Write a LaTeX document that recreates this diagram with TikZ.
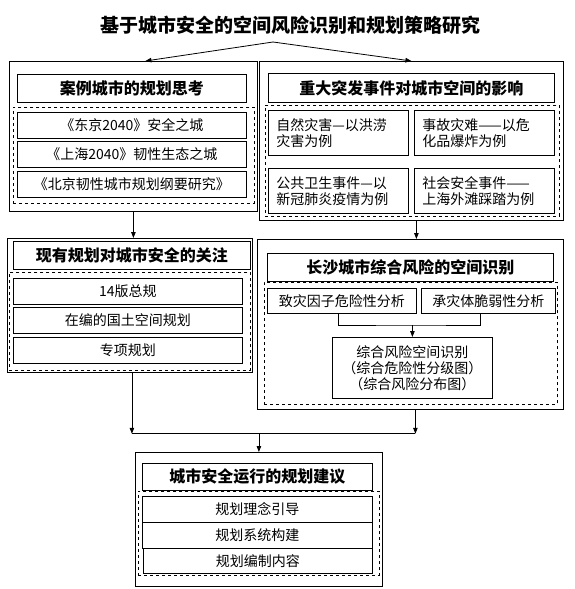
\documentclass[tikz,border=0pt]{standalone}
\usepackage{fontspec}
\setmainfont{Noto Sans CJK SC}
\usetikzlibrary{arrows.meta,positioning}
\tikzset{
  outb/.style={draw, line width=0.8pt, anchor=north west, inner sep=0pt},
  dbox/.style={draw, dashed, line width=0.6pt, anchor=north west, inner sep=0pt},
  hdr/.style={draw, line width=0.8pt, anchor=north west, inner sep=0pt, align=center, font=\fontsize{16pt}{19pt}\selectfont\bfseries},
  item/.style={draw, line width=0.8pt, anchor=north west, inner sep=0pt, align=center, font=\fontsize{14pt}{16pt}\selectfont},
  cell/.style={draw, line width=0.8pt, anchor=north west, inner xsep=8pt, inner ysep=0pt, align=left, text width=124pt, minimum width=140pt, minimum height=45pt, font=\fontsize{14pt}{16pt}\selectfont},
  flow/.style={-{Triangle[length=6pt,width=4.5pt]}, line width=0.8pt},
  link/.style={line width=0.8pt},
}
\begin{document}
\begin{tikzpicture}[x=1pt,y=-1pt]
\useasboundingbox (0,0) rectangle (575,589);
% title
\node[font=\fontsize{19pt}{22pt}\selectfont\bfseries] (ttl) at (290,25) {基于城市安全的空间风险识别和规划策略研究};
\coordinate (tp) at (273,42);
% case cities
\node[outb, minimum width=248pt, minimum height=150pt] (A) at (9,61) {};
\node[hdr, minimum width=229pt, minimum height=28pt] (Ah) at (17,74) {案例城市的规划思考};
\node[dbox, minimum width=241pt, minimum height=96pt] (Ad) at (13,107) {};
\node[item, minimum width=229pt, minimum height=26pt] (A1) at (17,112) {《东京2040》安全之城};
\node[item, minimum width=229pt, minimum height=26pt] (A2) at (17,141) {《上海2040》韧性生态之城};
\node[item, minimum width=229pt, minimum height=26pt] (A3) at (17,171) {《北京韧性城市规划纲要研究》};
% emergencies
\node[outb, minimum width=304pt, minimum height=159pt] (B) at (259,61) {};
\node[hdr, minimum width=286pt, minimum height=29pt] (Bh) at (268,73) {重大突发事件对城市空间的影响};
\node[dbox, minimum width=294pt, minimum height=111pt] (Bd) at (265,105) {};
\node[cell] (B1) at (268,110) {自然灾害—以洪涝\\灾害为例};
\node[cell] (B2) at (414,110) {事故灾难——以危\\化品爆炸为例};
\node[cell] (B3) at (268,168) {公共卫生事件—以\\新冠肺炎疫情为例};
\node[cell] (B4) at (414,168) {社会安全事件——\\上海外滩踩踏为例};
% current plans
\node[outb, minimum width=245pt, minimum height=134pt] (C) at (7,238) {};
\node[hdr, minimum width=237pt, minimum height=28pt] (Ch) at (13,241) {现有规划对城市安全的关注};
\node[dbox, minimum width=241pt, minimum height=98pt] (Cd) at (9,272) {};
\node[item, minimum width=229pt, minimum height=26pt] (C1) at (13,278) {14版总规};
\node[item, minimum width=229pt, minimum height=26pt] (C2) at (13,307) {在编的国土空间规划};
\node[item, minimum width=229pt, minimum height=26pt] (C3) at (13,337) {专项规划};
% changsha risk
\node[outb, minimum width=306pt, minimum height=170pt] (D) at (257,239) {};
\node[hdr, minimum width=286pt, minimum height=28pt] (Dh) at (267,253) {长沙城市综合风险的空间识别};
\node[dbox, minimum width=293pt, minimum height=122pt] (Dd) at (264,282) {};
\node[item, minimum width=149pt, minimum height=25pt] (D1) at (267,288) {致灾因子危险性分析};
\node[item, minimum width=134pt, minimum height=25pt] (D2) at (421,288) {承灾体脆弱性分析};
\node[item, minimum width=160pt, minimum height=61pt] (D3) at (332,337) {综合风险空间识别\\（综合危险性分级图）\\（综合风险分布图）};
% suggestions
\node[outb, minimum width=247pt, minimum height=134pt] (E) at (135,452) {};
\node[hdr, minimum width=230pt, minimum height=27pt] (Eh) at (142,463) {城市安全运行的规划建议};
\node[dbox, minimum width=241pt, minimum height=84pt] (Ed) at (138,491) {};
\node[item, minimum width=230pt, minimum height=26pt] (E1) at (142,496) {规划理念引导};
\node[item, minimum width=230pt, minimum height=26pt] (E2) at (142,522) {规划系统构建};
\node[item, minimum width=229pt, minimum height=25pt] (E3) at (143,548) {规划编制内容};
% connectors
\draw[flow] (tp) -- ([xshift=12pt]A.north);
\draw[flow] (tp) -- (B.north);
\draw[flow] (A.south) -- (A.south |- C.north);
\draw[flow] ([xshift=5pt]B.south) -- ([xshift=5pt]B.south |- D.north);
\coordinate (dj) at ([yshift=12pt]D3.north);
\draw[link] ([xshift=-4pt]D1.south) |- (dj) -| ([xshift=-8pt]D2.south);
\draw[flow] (dj) -- (D3.north);
\coordinate (bj) at ([xshift=2pt,yshift=-61pt]C.south);
\coordinate (bk) at ([xshift=5pt,yshift=-24pt]D.south);
\draw[flow] ([xshift=2pt]C.south) -- (bj);
\draw[flow] ([xshift=5pt]D.south) -- (bk);
\draw[link] (bj) -- (bk);
\draw[flow] (E.north |- bj) -- (E.north);
\end{tikzpicture}
\end{document}
